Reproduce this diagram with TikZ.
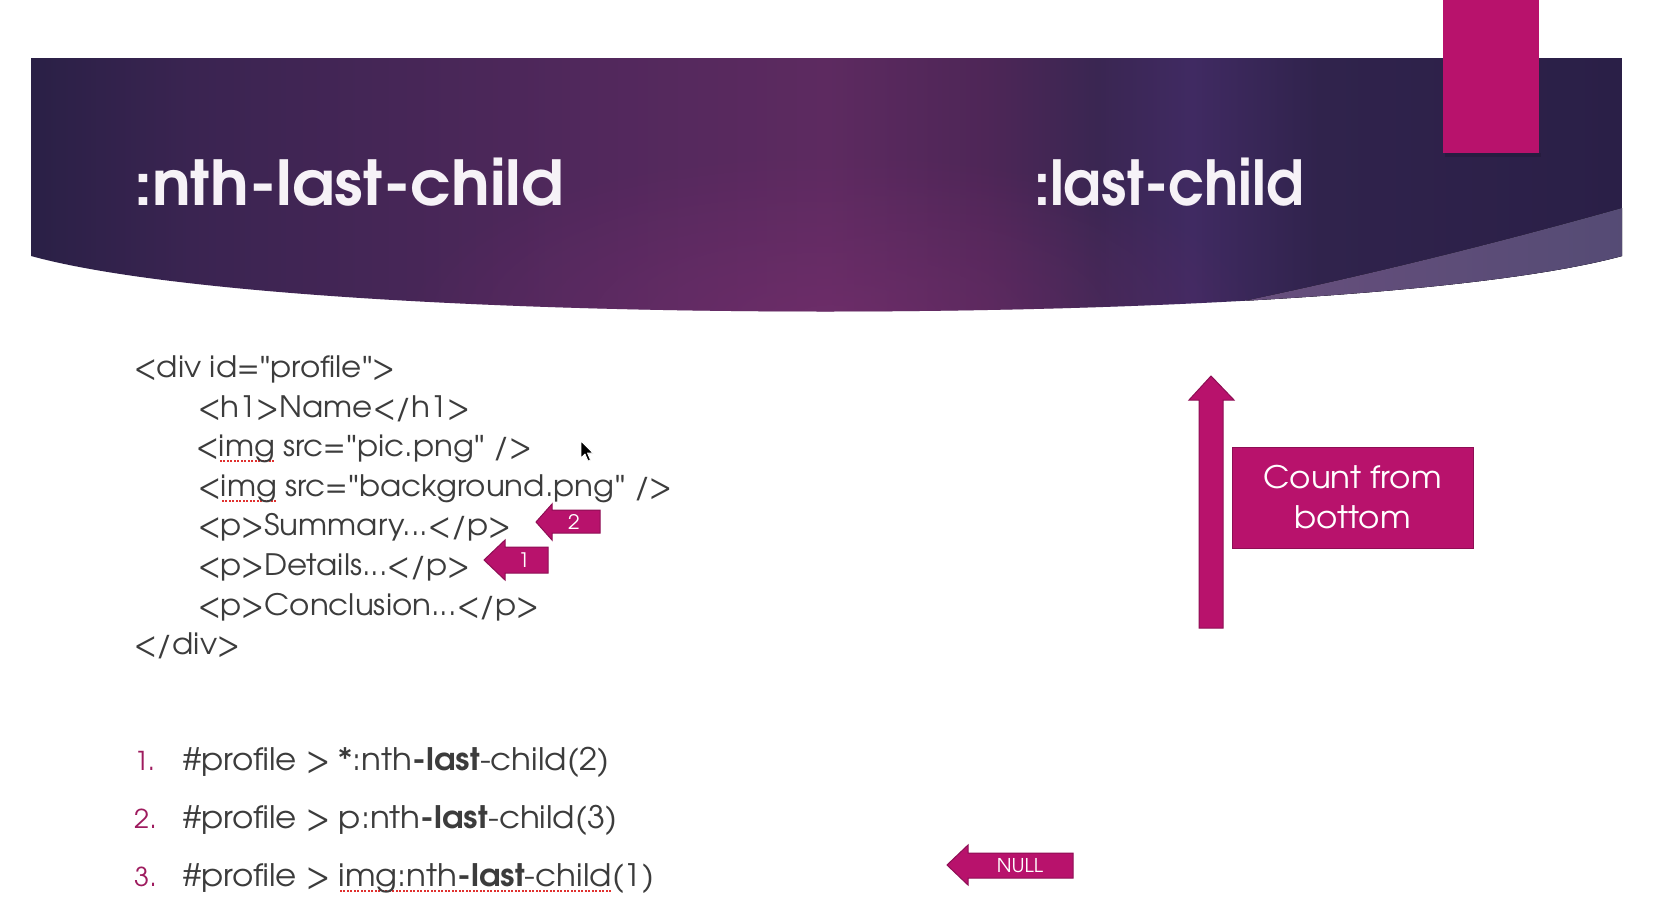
\documentclass[tikz,border=0pt]{standalone}
\usepackage{fontspec}
\setmainfont{texgyreadventor}[Extension=.otf, UprightFont=*-regular, BoldFont=*-bold, FakeStretch=1.05]
\newfontfamily\titlefont{texgyreadventor}[Extension=.otf, UprightFont=*-bold]
\newfontfamily\quotefont{Lato}
\usetikzlibrary{fadings}

% palette
\definecolor{mag}{HTML}{B8126C}
\definecolor{magdark}{HTML}{8E0E54}
\definecolor{codegrey}{HTML}{3C3C3C}
\definecolor{numc}{HTML}{9E1B5E}
\definecolor{squigred}{HTML}{E0302E}
\definecolor{titlewhite}{HTML}{F6F2F7}
\definecolor{bdark}{HTML}{2A2046}
\definecolor{bone}{HTML}{3A2451}
\definecolor{btwo}{HTML}{51285C}
\definecolor{bcen}{HTML}{5D2A60}
\definecolor{bthree}{HTML}{4E2657}
\definecolor{bfour}{HTML}{3A2652}
\definecolor{bglow}{HTML}{402A62}
\definecolor{bfive}{HTML}{30234C}
\definecolor{bdarkR}{HTML}{2A1F47}
\definecolor{glowc}{HTML}{7A3070}
\definecolor{ovlL}{HTML}{6A4F7E}
\definecolor{ovlR}{HTML}{544B74}

% left-to-right colouring of the title band (path spans 25bp..75bp)
\pgfdeclarehorizontalshading{bannershade}{100bp}{%
  color(0bp)=(bdark); color(25bp)=(bdark); color(30bp)=(bone);
  color(42.5bp)=(btwo); color(50bp)=(bcen); color(55bp)=(bthree);
  color(58.5bp)=(bfour); color(61.5bp)=(bglow); color(65.5bp)=(bfive);
  color(75bp)=(bdarkR); color(100bp)=(bdarkR)}

\tikzfading[name=softglow, inner color=transparent!0, outer color=transparent!100]

% straight double quote
\newcommand\dq{{\quotefont"}}

% dotted spell-check mark under a word
\newcommand\spellmark[1]{\leavevmode\setbox0=\hbox{#1}%
  \rlap{\raisebox{-5.5pt}[0pt][0pt]{\textcolor{squigred}{\hbox to \wd0{\xleaders\hbox to 3.5pt{\hss\rule{2pt}{2pt}\hss}\hfill}}}}\box0\relax}

\tikzset{
  titletext/.style={font=\titlefont\fontsize{62}{62}\selectfont, text=titlewhite, inner sep=0, anchor=base west},
  codeline/.style={font=\fontsize{29.5}{31}\selectfont, text=codegrey, inner sep=0, anchor=base west},
  listnum/.style={font=\fontsize{26}{28}\selectfont, text=numc, inner sep=0, anchor=base west},
  listitem/.style={font=\fontsize{31}{33}\selectfont, text=codegrey, inner sep=0, anchor=base west},
  pointer/.style={fill=mag, draw=magdark, line width=1pt, line join=miter},
  arrowlabel/.style={font=\fontsize{20}{22}\selectfont, text=white, inner sep=0},
  countbox/.style={fill=mag, draw=magdark, line width=1pt, minimum width=241pt, minimum height=101pt,
    align=center, text=white, font=\fontsize{31}{40}\selectfont, inner sep=0},
}

\begin{document}
\begin{tikzpicture}[x=1pt,y=-1pt]
\useasboundingbox (0,0) rectangle (1671,921);
\fill[white] (0,0) rectangle (1671,921);

% title band
\path[shading=bannershade] (31,58) -- (1622,58) -- (1622,256)
  .. controls (1350,330) and (300,330) .. (31,256) -- cycle;
\begin{scope}
  \clip (31,58) -- (1622,58) -- (1622,256) .. controls (1350,330) and (300,330) .. (31,256) -- cycle;
  \fill[glowc, path fading=softglow, fill opacity=.55] (830,320) ellipse [x radius=430, y radius=170];
  \fill[left color=ovlL, right color=ovlR] (1622,208) .. controls (1490,245) and (1350,280) .. (1190,312)
    -- (1640,330) -- (1640,208) -- cycle;
\end{scope}

% accent tab
\fill[black, opacity=.12] (1445,153) rectangle (1541,157);
\fill[mag] (1443,0) rectangle (1539,153);

% headings
\node[titletext] (t1) at (134,205) {\scalebox{1.04}[1]{:nth-last-child}};
\node[titletext] (t2) at (1034,205) {\scalebox{0.92}[1]{:last-child}};

% markup sample
\node[codeline] (c1) at (134,377) {<div id=\dq profile\dq>};
\node[codeline] (c2) at (198,417) {<h1>Name</h1>};
\node[codeline] (c3) at (196,456) {<\spellmark{img} src=\dq pic.png\dq{} />};
\node[codeline] (c4) at (198,496) {<\spellmark{img} src=\dq background.png\dq{} />};
\node[codeline] (c5) at (198,535) {<p>Summary...</p>};
\node[codeline] (c6) at (198,575) {<p>Details...</p>};
\node[codeline] (c7) at (198,615) {<p>Conclusion...</p>};
\node[codeline] (c8) at (134,654) {</div>};

% mouse pointer
\filldraw[fill=black, draw=white, line width=.8pt, line join=round] (581,441) -- ++(0,17) -- ++(4,-4)
  -- ++(3,7) -- ++(2.5,-1) -- ++(-3,-7) -- ++(5.5,0) -- cycle;

% counting arrows
\draw[pointer] (536,522) -- (552,504) -- (552,510) -- (600,510) -- (600,533) -- (552,533) -- (552,540) -- cycle;
\node[arrowlabel] (n2) at (574,522) {2};
\draw[pointer] (484,560) -- (505,540) -- (505,547) -- (548,547) -- (548,573) -- (505,573) -- (505,580) -- cycle;
\node[arrowlabel] (n1) at (524,560) {1};

% count direction
\draw[pointer] (1211,376) -- (1234,400) -- (1223,400) -- (1223,628) -- (1199,628) -- (1199,400) -- (1189,400) -- cycle;
\node[countbox] (cb) at (1352.5,497.5) {Count from\\bottom};

% selector list
\node[listnum] (k1) at (134,770) {1.};
\node[listnum] (k2) at (134,828) {2.};
\node[listnum] (k3) at (134,886) {3.};
\node[listitem] (s1) at (183,770) {\#profile > *:nth\textbf{-last}-child(2)};
\node[listitem] (s2) at (183,828) {\#profile > p:nth\textbf{-last}-child(3)};
\node[listitem] (s3) at (183,886) {\#profile > \spellmark{img:nth\textbf{-last}-child}(1)};

% null result
\draw[pointer] (947,865) -- (968,845) -- (968,853) -- (1073,853) -- (1073,878) -- (968,878) -- (968,885) -- cycle;
\node[arrowlabel, font=\fontsize{19}{21}\selectfont] (nl) at (1020,866) {NULL};
\end{tikzpicture}
\end{document}
